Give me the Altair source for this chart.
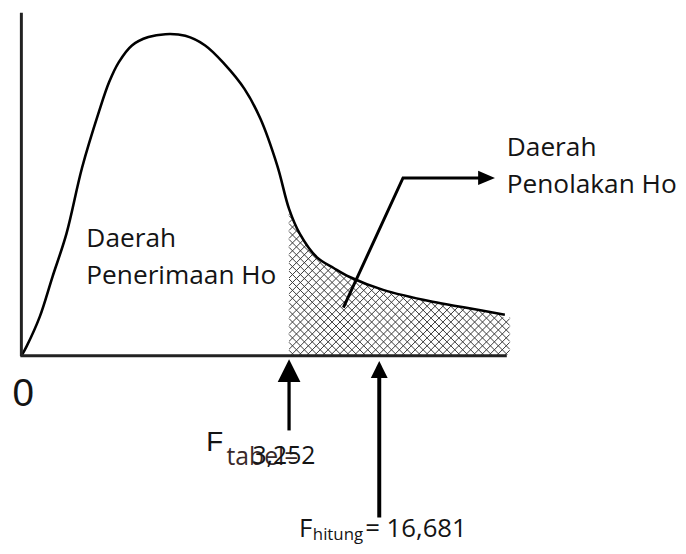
import numpy as np
import pandas as pd
import altair as alt

# ---------------- data (sketch units: x 0..100 along the F axis, y 0..100 density) ----------------
curve_x = [0.0, 1.0, 3.7, 6.3, 9.2, 12.4, 15.9, 18.0, 20.0, 22.7, 26.1, 29.6, 33.7, 37.8,
           41.8, 45.9, 49.2, 52.7, 55.1, 57.3, 60.8, 64.3, 67.6, 74.5, 84.7, 91.4, 99.6]
curve_y = [0.0, 2.8, 12.0, 24.3, 37.8, 58.2, 75.7, 84.9, 91.1, 96.3, 98.9, 99.8, 99.3, 96.3,
           90.5, 82.8, 73.5, 58.8, 45.5, 37.8, 30.5, 27.1, 24.3, 20.3, 16.6, 14.8, 12.6]

f_tabel_pos = 55.1      # where F tabel sits on the sketch axis (start of rejection region)
f_hitung_pos = 73.7     # where F hitung sits on the sketch axis
reject_end = 100.6      # right end of shaded rejection region

labels_text = ["Daerah", "Penerimaan Ho", "Daerah", "Penolakan Ho"]
labels_x = [13.3, 13.3, 100.0, 100.0]
labels_y = [33.5, 22.2, 61.9, 50.5]

zero_label = "0"
f_tabel_value = "3,252"
f_hitung_value = "16,681"

# pointer arrow into rejection region (polyline)
pointer_x = [66.3, 78.6, 94.7]
pointer_y = [14.8, 55.1, 55.1]

# ---------------- scales ----------------
W, H = 677, 538
XS = alt.Scale(domain=[0, 100], range=[14, 504], nice=False, zero=False)
YS = alt.Scale(domain=[0, 100], range=[348, 23], nice=False, zero=False)
INTERP = "catmull-rom"


def X(f="u"):
    return alt.X(f"{f}:Q", scale=XS, axis=None)


def Y(f="v"):
    return alt.Y(f"{f}:Q", scale=YS, axis=None)


def to_u(px):
    return (px - 14) / 4.9


def to_v(py):
    return (348 - py) / 3.25


curve = pd.DataFrame({"u": curve_x, "v": curve_y, "top": 48.0})

# ---------------- crosshatch (style) ----------------
x_min, x_max = 14 + 4.9 * f_tabel_pos, 14 + 4.9 * reject_end
y_min, y_max = 198.0, 347.5
step = 8.0
segs = []
for c in np.arange(y_min - x_max, y_max - x_min + step, step):
    lo, hi = max(x_min, y_min - c), min(x_max, y_max - c)
    if hi > lo:
        segs.append((lo, lo + c, hi, hi + c))
for c in np.arange(x_min + y_min, x_max + y_max + step, step):
    lo, hi = max(x_min, c - y_max), min(x_max, c - y_min)
    if hi > lo:
        segs.append((lo, c - lo, hi, c - hi))
hatch = pd.DataFrame({
    "u": [to_u(s[0]) for s in segs], "v": [to_v(s[1]) for s in segs],
    "u2": [to_u(s[2]) for s in segs], "v2": [to_v(s[3]) for s in segs],
})

hatch_layer = alt.Chart(hatch).mark_rule(color="#3a3a3a", strokeWidth=1).encode(
    x=X(), y=Y(), x2="u2:Q", y2="v2:Q")

mask_layer = alt.Chart(curve).mark_area(color="white", interpolate=INTERP, opacity=1).encode(
    x=X(), y=Y(), y2="top:Q")
mask_end = alt.Chart(pd.DataFrame({"u": [curve_x[-1] - 0.6], "u2": [reject_end + 1.5],
                                   "v": [curve_y[-1] - 0.8], "v2": [48.0]})).mark_rect(
    color="white", opacity=1).encode(x=X(), x2="u2:Q", y=Y(), y2="v2:Q")

curve_layer = alt.Chart(curve).mark_line(color="black", strokeWidth=2.6,
                                          interpolate=INTERP).encode(x=X(), y=Y())

axes_df = pd.DataFrame({"u": [-0.1, -0.3], "u2": [-0.1, curve_x[-1] + 0.4],
                        "v": [-0.3, -0.15], "v2": [106.5, -0.15]})
axes_layer = alt.Chart(axes_df).mark_rule(color="#222", strokeWidth=3).encode(
    x=X(), x2="u2:Q", y=Y(), y2="v2:Q")

# arrows from the labels up to the axis
shafts = pd.DataFrame({"u": [f_tabel_pos, f_hitung_pos], "u2": [f_tabel_pos, f_hitung_pos],
                       "v": [-5.9, -4.9], "v2": [-23.4, -50.5], "w": [3.3, 4.0]})
shaft_layer = alt.Chart(shafts).mark_rule(color="black").encode(
    x=X(), x2="u2:Q", y=Y(), y2="v2:Q", strokeWidth=alt.StrokeWidth("w:Q", scale=None))

up_path = "M0,-1L1,1L-1,1Z"
head1 = alt.Chart(pd.DataFrame({"u": [f_tabel_pos], "v": [-4.77]})).mark_point(
    shape=up_path, size=529, filled=True, color="black", opacity=1, strokeWidth=0).encode(x=X(), y=Y())
head2 = alt.Chart(pd.DataFrame({"u": [f_hitung_pos], "v": [-4.46]})).mark_point(
    shape=up_path, size=289, filled=True, color="black", opacity=1, strokeWidth=0).encode(x=X(), y=Y())

pointer = pd.DataFrame({"u": pointer_x, "v": pointer_y, "o": [0, 1, 2]})
pointer_layer = alt.Chart(pointer).mark_line(color="black", strokeWidth=3, strokeJoin="miter").encode(
    x=X(), y=Y(), order="o:O")
head3 = alt.Chart(pd.DataFrame({"u": [pointer_x[-1] + 1.13], "v": [pointer_y[-1]]})).mark_point(
    shape="M1,0L-1,-0.85L-1,0.85Z", size=289, filled=True, color="black", opacity=1,
    strokeWidth=0).encode(x=X(), y=Y())

# ---------------- texts ----------------
TXT = "#141414"
texts = []
for t, ux, vy in zip(labels_text, labels_x, labels_y):
    texts.append(alt.Chart(pd.DataFrame({"u": [ux], "v": [vy], "t": [t]})).mark_text(
        font="Open Sans", fontSize=26.5, align="left", baseline="alphabetic", color=TXT).encode(
        x=X(), y=Y(), text="t:N"))


def txt(t, ux, vy, size, font="Open Sans", align="left", color=TXT):
    return alt.Chart(pd.DataFrame({"u": [ux], "v": [vy], "t": [t]})).mark_text(
        font=font, fontSize=size, align=align, baseline="alphabetic", color=color).encode(
        x=X(), y=Y(), text="t:N")


texts += [
    txt(zero_label, 0.31, -15.7, 39, font="Liberation Sans", align="center"),
    txt("F", f_tabel_pos - 17.1, -29.85, 28, font="Liberation Sans"),
    txt("tabel=", f_tabel_pos - 12.9, -34.15, 25, color="#3a2a2a"),
    txt(f_tabel_value, f_tabel_pos - 7.55, -33.85, 25),
    txt("F", f_tabel_pos + 2.04, -56.6, 26),
    txt("hitung", f_tabel_pos + 4.9, -57.55, 17),
    txt("= " + f_hitung_value, f_tabel_pos + 15.7, -56.6, 26),
]

chart = alt.layer(
    hatch_layer, mask_layer, mask_end, curve_layer, axes_layer, shaft_layer, head1, head2,
    pointer_layer, head3, *texts
).properties(
    width=W, height=H, padding=0, background="white",
    autosize=alt.AutoSizeParams(type="none"),
).configure_view(stroke="transparent", strokeWidth=0)

chart.save("out.html", embed_options={"renderer": "svg", "actions": False})
